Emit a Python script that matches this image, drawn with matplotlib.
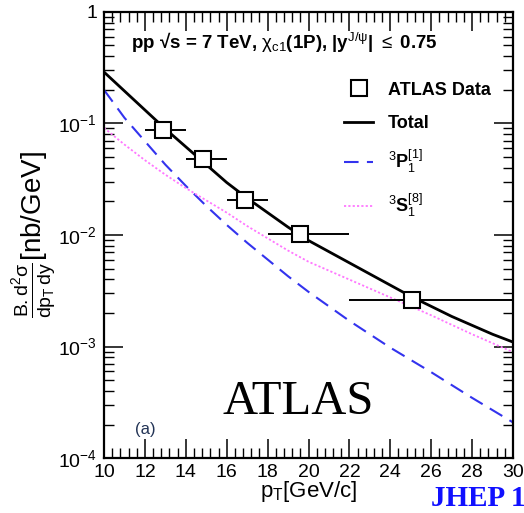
"""
chi_c1(1P) pT spectrum: ATLAS data vs singlet / octet contributions
"""

import matplotlib
matplotlib.use("Agg")
import matplotlib.pyplot as plt
import numpy as np
from matplotlib.ticker import MultipleLocator, LogLocator, NullFormatter

# ATLAS data points (bin centres, bin edges, values)
pt_data = [12.9, 14.85, 16.9, 19.6, 25.05]
pt_lo = [12.0, 14.0, 16.0, 18.0, 22.0]
pt_hi = [14.0, 16.0, 18.0, 22.0, 30.0]
xsec_data = [0.088, 0.048, 0.0205, 0.0102, 0.0026]

# theory curves, log10 of the cross section at each pT
pt_curve = [10, 11, 12, 13, 14, 15, 16, 17, 18, 19, 20,
            21, 22, 23, 24, 25, 26, 27, 28, 29, 30]
log_total = [-0.54, -0.71, -0.88, -1.05, -1.21, -1.37, -1.53, -1.67, -1.80, -1.93, -2.05,
             -2.15, -2.25, -2.35, -2.45, -2.55, -2.64, -2.73, -2.81, -2.89, -2.96]
log_p1 = [-0.70, -0.95, -1.16, -1.37, -1.56, -1.74, -1.91, -2.07, -2.22, -2.37, -2.51,
          -2.64, -2.77, -2.89, -3.01, -3.12, -3.23, -3.345, -3.46, -3.57, -3.68]
log_s8 = [-1.04, -1.19, -1.33, -1.46, -1.58, -1.69, -1.80, -1.92, -2.03, -2.14, -2.24,
          -2.32, -2.40, -2.48, -2.56, -2.64, -2.72, -2.805, -2.89, -2.97, -3.05]

total = 10 ** np.array(log_total)
p1_singlet = 10 ** np.array(log_p1)
s1_octet = 10 ** np.array(log_s8)

plt.rcParams['font.family'] = ['Liberation Sans', 'DejaVu Sans']
plt.rcParams['mathtext.fontset'] = 'custom'
plt.rcParams['mathtext.rm'] = 'Liberation Sans'
plt.rcParams['mathtext.it'] = 'Liberation Sans'
plt.rcParams['mathtext.bf'] = 'Liberation Sans:bold'

fig = plt.figure(figsize=(5.24, 5.13), dpi=100)
ax = fig.add_axes([0.1985, 0.107, 0.7805, 0.870])

xerr = [np.array(pt_data) - np.array(pt_lo), np.array(pt_hi) - np.array(pt_data)]
ax.plot(pt_curve, total, color='black', lw=2.0, label='Total')
ax.plot(pt_curve, p1_singlet, color='#3333ee', lw=1.5, ls=(0, (7, 4)),
        label=r'$^{3}\mathbf{P}_{1}^{[1]}$')
ax.plot(pt_curve, s1_octet, color='#ff77ff', lw=1.3, ls=(0, (1.2, 1.2)),
        label=r'$^{3}\mathbf{S}_{1}^{[8]}$')
ax.errorbar(pt_data, xsec_data, xerr=xerr, fmt='s', mfc='white', mec='black',
            ms=11, mew=1.5, ecolor='black', elinewidth=1.4, capsize=0,
            label='ATLAS Data', zorder=5)

ax.set_yscale('log')
ax.set_xlim(10, 30)
ax.set_ylim(1e-4, 1)
ax.xaxis.set_major_locator(MultipleLocator(2))
ax.xaxis.set_minor_locator(MultipleLocator(0.4))
ax.yaxis.set_minor_locator(LogLocator(base=10, subs=np.arange(2, 10), numticks=10))
ax.yaxis.set_minor_formatter(NullFormatter())
ax.set_yticks([1e-4, 1e-3, 1e-2, 1e-1, 1])
ax.set_yticklabels([r'$10^{-4}$', r'$10^{-3}$', r'$10^{-2}$', r'$10^{-1}$', '1'])
ax.tick_params(which='both', direction='in', top=True, right=True, labelsize=14)
ax.tick_params(which='major', length=14, width=1.1)
ax.tick_params(which='minor', length=7, width=1.0)
ax.tick_params(axis='x', pad=4)
ax.tick_params(axis='y', pad=5)
for s in ax.spines.values():
    s.set_linewidth(1.6)

ax.set_xlabel(r'p$_{\mathrm{T}}$[GeV/c]', fontsize=16, labelpad=-1)
ax.set_ylabel(r'$\frac{\mathrm{B.d^{2}\sigma}}{\mathrm{dp_{T}\,dy}}$[nb/GeV]', fontsize=20, labelpad=0)

ax.text(0.065, 0.93, r'pp √s = 7 TeV, $\chi_{\mathrm{c1}}$(1P), |y$^{\mathrm{J/\psi}}$| $\leq$ 0.75',
        transform=ax.transAxes, fontsize=13.5, fontweight='bold', va='center')
ax.text(0.075, 0.065, '(a)', transform=ax.transAxes, fontsize=12, color='#223355',
        va='center')
ax.text(0.475, 0.125, 'ATLAS', transform=ax.transAxes, fontsize=35,
        family='Liberation Serif', ha='center', va='center')
fig.text(0.822, 0.002, 'JHEP 1', fontsize=21, family='Liberation Serif',
         fontweight='bold', color='#1010ff', va='bottom')

h, l = ax.get_legend_handles_labels()
order = [3, 0, 1, 2]
leg = ax.legend([h[i] for i in order], [l[i] for i in order], loc='upper right',
                bbox_to_anchor=(0.985, 0.88), frameon=False,
                prop={'weight': 'bold', 'size': 13}, handlelength=1.6,
                labelspacing=0.9)

fig.savefig('out.png', dpi=100)
